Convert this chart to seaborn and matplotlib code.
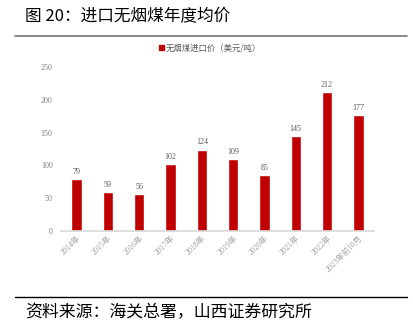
import matplotlib
matplotlib.use("Agg")
import matplotlib.pyplot as plt
import seaborn as sns
import pandas as pd
from matplotlib.lines import Line2D
from matplotlib.patches import Patch

categories = ["2014年", "2015年", "2016年", "2017年", "2018年", "2019年",
              "2020年", "2021年", "2022年", "2023年前10月"]
values = [79, 59, 56, 102, 124, 109, 85, 145, 212, 177]
series_name = "无烟煤进口价（美元/吨）"
yticks = [0, 50, 100, 150, 200, 250]

sns.set_theme(style="white")
plt.rcParams['font.family'] = ['Liberation Serif', 'Noto Sans CJK SC', 'DejaVu Sans']

df = pd.DataFrame({"cat": categories, "val": values})

fig = plt.figure(figsize=(4.14, 3.28), dpi=100)
ax = fig.add_axes([61/414, 1-231/328, 313/414, 164/328])
sns.barplot(data=df, x="cat", y="val", color="#C00000", saturation=1,
            width=0.33, ax=ax)
ax.set_xlim(-0.5, len(categories) - 0.5)
ax.set_ylim(0, 250)
ax.set_yticks(yticks)
ax.set_yticklabels([str(t) for t in yticks], fontsize=5.8, color="#7f7f7f")
ax.tick_params(axis='y', length=0, pad=6)
ax.tick_params(axis='x', length=0, pad=2)
ax.set_xticks(range(len(categories)))
ax.set_xticklabels(categories, rotation=45, ha='right', rotation_mode='anchor',
                   fontsize=5.8, color="#a0a0a0",
                   family=['Liberation Serif', 'Noto Sans CJK SC'])
ax.set_xlabel("")
ax.set_ylabel("")
for s in ["top", "right", "left"]:
    ax.spines[s].set_visible(False)
ax.spines["bottom"].set_color("#d9d9d9")
ax.spines["bottom"].set_linewidth(1.2)
for i, v in enumerate(values):
    ax.text(i, v + 5, str(v), ha='center', va='bottom', fontsize=5.8, color="#595959")

# legend
leg = ax.legend(handles=[Patch(color="#C00000", label=series_name)],
                loc='center', bbox_to_anchor=(210/414, 1-48/328),
                bbox_transform=fig.transFigure, frameon=False,
                handlelength=0.6, handleheight=0.6, handletextpad=0.3,
                prop={'family': ['Noto Sans CJK SC'], 'size': 6})
for t in leg.get_texts():
    t.set_color("#595959")

# title and decorations
fig.text(25/414, 1-17/328, "图 20：进口无烟煤年度均价", fontsize=12,
         family=['Noto Sans CJK SC'], va='center', ha='left', color="black")
fig.add_artist(Line2D([15/414, 407/414], [1-35.5/328, 1-35.5/328],
                      color="#808080", lw=1.3, transform=fig.transFigure))
fig.add_artist(Line2D([15/414, 407/414], [1-297/328, 1-297/328],
                      color="black", lw=1.0, transform=fig.transFigure))
fig.text(25/414, 1-312/328, "资料来源：海关总署，山西证券研究所", fontsize=12.2,
         family=['Noto Sans CJK SC'], va='center', ha='left', color="black")

fig.savefig("out.png", dpi=100)
